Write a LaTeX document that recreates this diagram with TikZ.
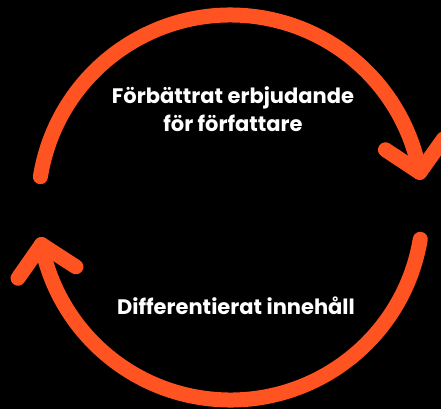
\documentclass[tikz,border=0pt]{standalone}
\usepackage{fontspec}
\setmainfont{Poppins}
\definecolor{accent}{HTML}{FF5421}
\begin{document}
\begin{tikzpicture}[x=1pt,y=-1pt,
  loop/.style={draw=accent, line width=15pt, line cap=round, line join=round},
  label/.style={text=white, font=\fontsize{21}{28}\selectfont\bfseries, align=center, inner sep=0pt}]
\fill[black] (0,0) rectangle (441,409);
\useasboundingbox (0,0) rectangle (441,409);
\coordinate (c) at (230.4,207.5);
% upper arc with arrowhead
\coordinate (startT) at ([shift={(-170.8:192.5)}]c);
\coordinate (tipT) at ([shift={(-10.5:192.5)}]c);
\draw[loop] (startT) arc[start angle=-170.8, end angle=-10.5, radius=192.5];
\coordinate (armT1) at ([shift={(-146.5:41)}]tipT);
\coordinate (armT2) at ([shift={(-54.5:41)}]tipT);
\draw[loop] (armT1) -- (tipT) -- (armT2);
% lower arc with arrowhead
\coordinate (startB) at ([shift={(9.5:192.5)}]c);
\coordinate (tipB) at ([shift={(168.9:192.5)}]c);
\draw[loop] (startB) arc[start angle=9.5, end angle=168.9, radius=192.5];
\coordinate (armB1) at ([shift={(32.9:41)}]tipB);
\coordinate (armB2) at ([shift={(124.9:41)}]tipB);
\draw[loop] (armB1) -- (tipB) -- (armB2);
% labels
\node[label, anchor=base] (top) at (233,131.7) {Förbättrat erbjudande\\för författare};
\node[label, anchor=base] (bottom) at (236,314.3) {Differentierat innehåll};
\end{tikzpicture}
\end{document}
